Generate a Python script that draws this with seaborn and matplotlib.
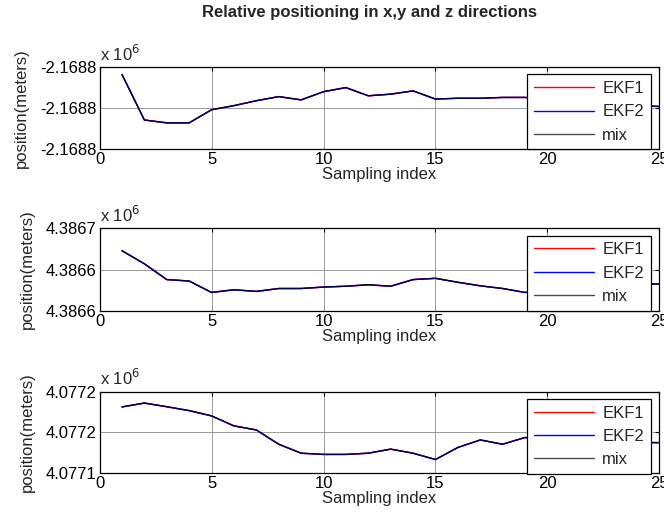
import numpy as np
import matplotlib
matplotlib.use("Agg")
import matplotlib.pyplot as plt
import seaborn as sns
from matplotlib.ticker import FuncFormatter

# sampling index 1..25
sample_idx = list(range(1, 26))

# positions in meters (EKF1, EKF2 and mix coincide at this scale)
pos_x = [-2168801.8, -2168812.9, -2168813.6, -2168813.6, -2168810.4, -2168809.4,
         -2168808.2, -2168807.2, -2168808.0, -2168806.0, -2168805.0, -2168807.0,
         -2168806.6, -2168805.8, -2168807.8, -2168807.6, -2168807.6, -2168807.4,
         -2168807.4, -2168807.8, -2168808.2, -2168808.6, -2168809.0, -2168809.4,
         -2168809.6]
pos_y = [4386649.1, 4386642.8, 4386635.2, 4386634.5, 4386629.0, 4386630.3,
         4386629.5, 4386630.9, 4386630.9, 4386631.6, 4386632.0, 4386632.7,
         4386632.0, 4386635.2, 4386635.8, 4386633.9, 4386632.2, 4386630.9,
         4386629.0, 4386630.0, 4386631.0, 4386632.0, 4386632.6, 4386633.0,
         4386633.1]
pos_z = [4077172.5, 4077174.4, 4077172.6, 4077170.7, 4077168.1, 4077163.2,
         4077161.2, 4077154.2, 4077149.8, 4077149.2, 4077149.2, 4077149.8,
         4077151.8, 4077149.8, 4077146.7, 4077152.6, 4077156.3, 4077154.2,
         4077157.5, 4077156.0, 4077155.0, 4077154.5, 4077154.5, 4077155.0,
         4077155.0]

y_ticks = [
    [-2168820, -2168810, -2168800],
    [4386620, 4386640, 4386660],
    [4077140, 4077160, 4077180],
]
x_ticks = [0, 5, 10, 15, 20, 25]

sns.set_style("white")
plt.rcParams['font.family'] = ['Liberation Sans', 'DejaVu Sans']

fig = plt.figure(figsize=(6.64, 5.16), dpi=100)

rects = [
    [0.150, 0.711, 0.843, 0.159],
    [0.150, 0.397, 0.843, 0.161],
    [0.150, 0.083, 0.843, 0.158],
]

fmt = FuncFormatter(lambda v, p: "%.4f" % (v / 1e6))

for rect, vals, yt in zip(rects, [pos_x, pos_y, pos_z], y_ticks):
    ax = fig.add_axes(rect)
    sns.lineplot(x=sample_idx, y=vals, color="red", lw=1, ax=ax, label="EKF1")
    sns.lineplot(x=sample_idx, y=vals, color="blue", lw=1, ax=ax, label="EKF2")
    sns.lineplot(x=sample_idx, y=vals, color="black", lw=1, alpha=0.7, ax=ax, label="mix")

    ax.set_xlim(0, 25)
    ax.set_ylim(yt[0], yt[-1])
    ax.set_xticks(x_ticks)
    ax.set_yticks(yt)
    ax.yaxis.set_major_formatter(fmt)
    ax.grid(True, color="0.55", lw=0.6)
    ax.tick_params(direction="in", length=3, width=0.8, top=True, right=True,
                   labelsize=12, pad=2, colors="black")
    for s in ax.spines.values():
        s.set_color("black")
        s.set_linewidth(0.9)
    ax.set_xlabel("Sampling index", fontsize=12, labelpad=0)
    ax.set_ylabel("position(meters)", fontsize=12, labelpad=8)
    ax.text(0.0, 1.04, r"x 10$^{6}$", transform=ax.transAxes, fontsize=12,
            ha="left", va="bottom")

    leg = ax.legend(loc="upper left", bbox_to_anchor=(0.764, 0.91),
                    fontsize=12, handlelength=3.6, frameon=True, fancybox=False,
                    borderaxespad=0, borderpad=0.4, labelspacing=0.5,
                    handletextpad=0.5)
    leg.get_frame().set_edgecolor("black")
    leg.get_frame().set_linewidth(0.9)
    leg.get_frame().set_alpha(1)

fig.text(0.557, 0.975, "Relative positioning in x,y and z directions",
         ha="center", va="center", fontsize=12, fontweight="bold")

fig.savefig("out.png", dpi=100)
